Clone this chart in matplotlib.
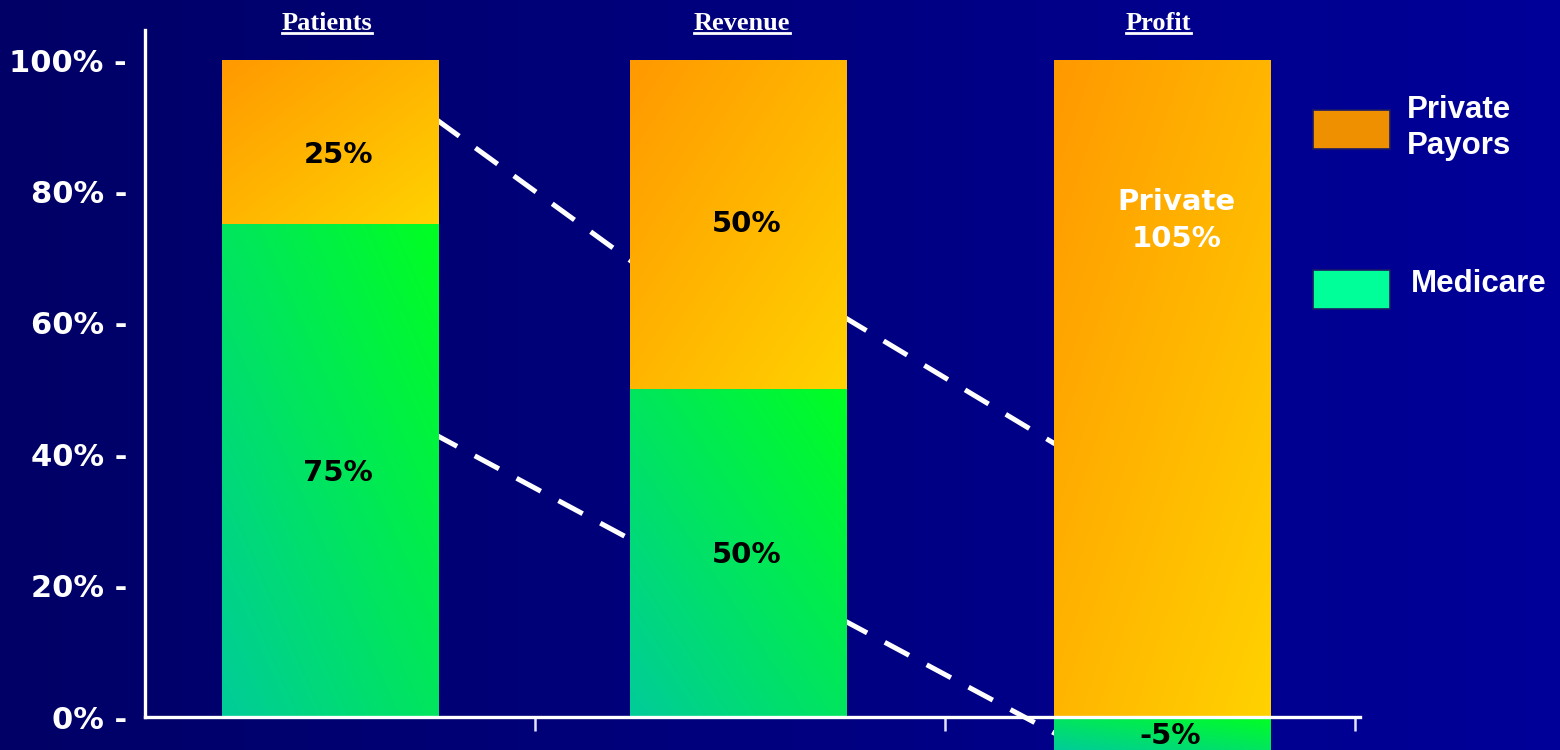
import matplotlib
matplotlib.use("Agg")
import matplotlib.pyplot as plt
import numpy as np
from matplotlib.colors import LinearSegmentedColormap
from matplotlib.patches import Rectangle
from matplotlib.lines import Line2D

# ---------------- data ----------------
categories = ["Patients", "Revenue", "Profit"]
medicare = [75, 50, -5]
private = [25, 50, 105]
yticks = [0, 20, 40, 60, 80, 100]
ytick_labels = ["0% -", "20% -", "40% -", "60% -", "80% -", "100% -"]
legend_labels = ["Private\nPayors", "Medicare"]
# dashed connectors (start value, end value) between bars
conn_upper = [(90.9, 68.9), (61.0, 41.6)]
conn_lower = [(43.2, 27.0), (14.8, -3.2)]

# ---------------- layout ----------------
W, H = 1560, 750
fig = plt.figure(figsize=(W / 100, H / 100), dpi=100)

bg = fig.add_axes([0, 0, 1, 1], zorder=-10)
grad = np.linspace(0, 1, 256)[None, :]
bg_cmap = LinearSegmentedColormap.from_list("bg", ["#000066", "#000099"])
bg.imshow(grad, aspect="auto", cmap=bg_cmap, extent=[0, 1, 0, 1])
bg.set_axis_off()

ax_left, ax_right = 145, 1360
ax = fig.add_axes([ax_left / W, 0, (ax_right - ax_left) / W, 720 / H])
ax.patch.set_alpha(0)

xpos = [0.0, 0.995, 2.03]
bw = 0.527

orange_cmap = LinearSegmentedColormap.from_list("or", ["#FF9900", "#FFD200"])
green_cmap = LinearSegmentedColormap.from_list("gr", ["#00FF22", "#00CC99"])

def gradient_bar(x, bottom, height, cmap, kind):
    rect = Rectangle((x - bw / 2, bottom), bw, height, facecolor="none",
                     edgecolor="none", zorder=2)
    ax.add_patch(rect)
    n = 100
    u = np.linspace(0, 1, n)[None, :]
    v = np.linspace(1, 0, n)[:, None]  # row 0 = top
    if kind == "orange":
        t = (u + (1 - v)) / 2
    else:
        t = ((1 - u) + (1 - v)) / 2
    im = ax.imshow(t, cmap=cmap, vmin=0, vmax=1, aspect="auto",
                   extent=[x - bw / 2, x + bw / 2, bottom, bottom + height],
                   zorder=2, interpolation="bilinear")
    im.set_clip_path(rect)

for i, cat in enumerate(categories):
    m = medicare[i]
    gradient_bar(xpos[i], min(m, 0), abs(m), green_cmap, "green")
    pb = max(m, 0)
    ph = min(private[i], 100 - pb)
    gradient_bar(xpos[i], pb, ph, orange_cmap, "orange")

ax.set_ylim(-5.0, 104.6)
ax.set_xlim(-0.451, 2.512)

# bar labels
lab_font = dict(family="DejaVu Sans", fontsize=21, fontweight="bold")
priv_label_y = [85.5, 75, 75.6]
priv_dx = [0.02, 0.02, 0.035]
priv_text = ["25%", "50%", "Private\n105%"]
priv_color = ["black", "black", "white"]
for i in range(3):
    m = medicare[i]
    ax.text(xpos[i] + 0.02, m / 2 - 0.3, f"{m}%", ha="center", va="center",
            color="black", zorder=5, **lab_font)
    ax.text(xpos[i] + priv_dx[i], priv_label_y[i], priv_text[i], ha="center",
            va="center", color=priv_color[i], zorder=5, linespacing=1.45,
            **lab_font)

# dashed connectors
dash = dict(color="white", lw=3.6, linestyle=(0, (5.5, 4)), zorder=1,
            dash_capstyle="butt")
for (a, b), (x0, x1) in zip(conn_upper, [(0.261, 0.746), (1.251, 1.768)]):
    ax.plot([x0, x1], [a, b], **dash)
for (a, b), (x0, x1) in zip(conn_lower, [(0.251, 0.735), (1.251, 1.790)]):
    ax.plot([x0, x1], [a, b], **dash)

# spines & ticks
for s in ["top", "right"]:
    ax.spines[s].set_visible(False)
ax.spines["bottom"].set_position(("data", 0))
ax.spines["left"].set_bounds(0, 104.6)
for s in ["left", "bottom"]:
    ax.spines[s].set_color("white")
    ax.spines[s].set_linewidth(2.4)
    ax.spines[s].set_zorder(6)
ax.set_xticks([0.5, 1.5, 2.5])
ax.set_xticklabels([])
ax.tick_params(axis="x", direction="out", length=10, width=1.8,
               color="#E0E0FF")
ax.set_yticks(yticks)
ax.set_yticklabels(ytick_labels)
ax.tick_params(axis="y", length=0, pad=13, labelsize=22, labelcolor="white")
for lbl in ax.get_yticklabels():
    lbl.set_family("DejaVu Sans")
    lbl.set_fontweight("bold")

# category titles (underlined)
titles = []
title_x = [-0.007, 1.005, 2.02]
for i, cat in enumerate(categories):
    t = ax.text(title_x[i], 104.6, cat, ha="center", va="baseline",
                color="white", fontsize=19, fontweight="bold",
                family="Liberation Serif", clip_on=False)
    titles.append(t)
fig.canvas.draw()
r = fig.canvas.get_renderer()
inv = ax.transData.inverted()
for t in titles:
    bb = t.get_window_extent(r)
    (xa, _), (xb, _) = inv.transform([(bb.x0, 0), (bb.x1, 0)])
    ax.add_line(Line2D([xa, xb], [104.15, 104.15], color="white", lw=2.0,
                       clip_on=False))

# legend (manual)
legend_colors = ["#EE9000", "#00FF99"]
box_y = [110, 270]
for i in range(2):
    fig.patches.append(Rectangle((1313 / W, 1 - (box_y[i] + 39) / H), 77 / W,
                                 39 / H, transform=fig.transFigure,
                                 facecolor=legend_colors[i],
                                 edgecolor="#1a1a66", lw=1.2))
fig.text(1459 / W, 1 - 128 / H, legend_labels[0],
         ha="center", va="center", color="white", fontsize=22.5,
         fontweight="bold", family="Liberation Sans", linespacing=1.3)
fig.text(1411 / W, 1 - 284 / H, legend_labels[1],
         ha="left", va="center", color="white", fontsize=22.5,
         fontweight="bold", family="Liberation Sans")

fig.savefig("out.png", dpi=100)
